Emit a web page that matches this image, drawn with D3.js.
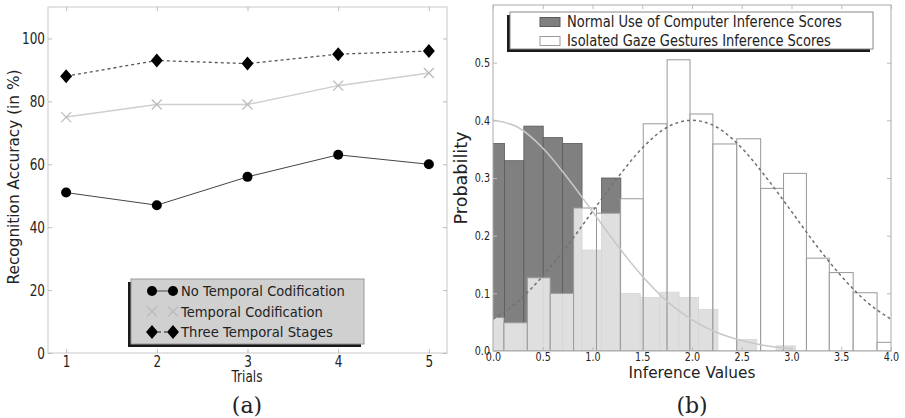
<!DOCTYPE html>
<html>
<head>
<meta charset="utf-8">
<script src="https://cdn.jsdelivr.net/npm/d3@7"></script>
<style>
  body { margin: 0; background: #fff; }
  svg { display: block; }
  text { font-family: "DejaVu Sans", sans-serif; fill: #222; }
</style>
</head>
<body>
<div id="chart"></div>
<script>
// (a) recognition accuracy per trial
const trials = [1, 2, 3, 4, 5]
const noTemporal = [51, 47, 56, 63, 60]
const temporal = [75, 79, 79, 85, 89]
const threeStages = [88, 93, 92, 95, 96]
const accTicks = [0, 20, 40, 60, 80, 100]

// (b) inference value histograms (bin edges + probability per bin)
const normalEdges = [-0.08, 0.115, 0.31, 0.505, 0.70, 0.895, 1.09, 1.285, 1.48, 1.675, 1.87, 2.065, 2.26, 2.455, 2.65, 2.845, 3.04]
const normalProb = [0.36, 0.33, 0.39, 0.37, 0.36, 0.175, 0.30, 0.10, 0.093, 0.102, 0.093, 0.072, 0, 0.02, 0, 0.009]
const gazeEdges = [-0.125, 0.11, 0.345, 0.575, 0.81, 1.04, 1.28, 1.51, 1.75, 1.98, 2.21, 2.45, 2.69, 2.92, 3.15, 3.38, 3.62, 3.86, 4.09]
const gazeProb = [0.058, 0.049, 0.127, 0.10, 0.248, 0.239, 0.264, 0.394, 0.505, 0.411, 0.359, 0.368, 0.282, 0.308, 0.161, 0.136, 0.101, 0.015]
// fitted curves
const normalCurveX = [0, 0.25, 0.5, 0.75, 1.0, 1.25, 1.5, 1.75, 2.0, 2.25, 2.5, 2.75, 3.0]
const normalCurveY = [0.40, 0.388, 0.352, 0.30, 0.242, 0.183, 0.13, 0.086, 0.054, 0.032, 0.018, 0.009, 0.004]
const gazeCurveX = [0, 0.25, 0.5, 0.75, 1.0, 1.25, 1.5, 1.75, 2.0, 2.25, 2.5, 2.75, 3.0, 3.25, 3.5, 3.75, 4.0]
const gazeCurveY = [0.055, 0.086, 0.13, 0.183, 0.242, 0.30, 0.352, 0.388, 0.40, 0.388, 0.352, 0.30, 0.242, 0.183, 0.13, 0.086, 0.055]
const probTicks = [0, 0.1, 0.2, 0.3, 0.4, 0.5]
const valueTicks = [0, 0.5, 1.0, 1.5, 2.0, 2.5, 3.0, 3.5, 4.0]

const W = 905, H = 418
const svg = d3.select("#chart").append("svg").attr("width", W).attr("height", H)

// text helper: squeezes horizontally to a target width when given
function addText(parent, x, y, str, opt = {}){
    const g = parent.append("g")
        .attr("transform", `translate(${x},${y})` + (opt.rotate ? ` rotate(${opt.rotate})` : ""))
    const t = g.append("text")
        .attr("text-anchor", opt.anchor || "middle")
        .attr("dy", "0.35em")
        .style("font-size", (opt.size || 14) + "px")
        .text(str)
    if (opt.family) t.style("font-family", opt.family)
    if (opt.width){
        const len = t.node().getComputedTextLength()
        t.attr("transform", `scale(${opt.width / len},1)`)
    }
    return t
}
function squeeze(sel, sx){
    sel.each(function(){
        const t = d3.select(this)
        t.attr("x", (+t.attr("x") || 0) / sx).attr("transform", `scale(${sx},1)`)
    })
}
function styleAxis(g, size, sx){
    g.select(".domain").remove()
    g.selectAll(".tick line").attr("stroke", "#bbb")
    g.selectAll(".tick text").style("font-size", size + "px").attr("fill", "#222")
        .style("font-family", "DejaVu Sans, sans-serif")
    squeeze(g.selectAll(".tick text"), sx)
}

//--- panel (a)
const xa = d3.scaleLinear().domain([0.8, 5.2]).range([48, 447])
const ya = d3.scaleLinear().domain([0, 110]).range([353, 7])
const pa = svg.append("g")

pa.append("rect").attr("x", xa.range()[0]).attr("y", ya.range()[1])
    .attr("width", xa.range()[1] - xa.range()[0]).attr("height", ya.range()[0] - ya.range()[1])
    .attr("fill", "none").attr("stroke", "#c8c8c8")

const axL = pa.append("g").attr("transform", `translate(${xa.range()[0]},0)`)
    .call(d3.axisLeft(ya).tickValues(accTicks).tickSize(-4).tickPadding(3))
styleAxis(axL, 16, 0.75)
const axB = pa.append("g").attr("transform", `translate(0,${ya.range()[0]})`)
    .call(d3.axisBottom(xa).tickValues(trials).tickSize(-4).tickPadding(3).tickFormat(d3.format("d")))
styleAxis(axB, 16, 0.75)
const axT = pa.append("g").attr("transform", `translate(0,${ya.range()[1]})`)
    .call(d3.axisTop(xa).tickValues(trials).tickSize(-4).tickFormat(""))
styleAxis(axT, 15, 1)
const axR = pa.append("g").attr("transform", `translate(${xa.range()[1]},0)`)
    .call(d3.axisRight(ya).tickValues(accTicks).tickSize(-4).tickFormat(""))
styleAxis(axR, 15, 1)

const lineA = vals => d3.line().x((d, i) => xa(trials[i])).y(d => ya(d))(vals)
const diamond = "M0,-7L6,0L0,7L-6,0Z"
const cross = "M-5,-5L5,5M-5,5L5,-5"

const seriesA = [
    {name: "No Temporal Codification", vals: noTemporal, stroke: "#444", width: 1, dash: null, marker: "circle"},
    {name: "Temporal Codification", vals: temporal, stroke: "#cfcfcf", width: 1.5, dash: null, marker: "cross"},
    {name: "Three Temporal Stages", vals: threeStages, stroke: "#555", width: 1.3, dash: "3,3", marker: "diamond"}
]
function drawMarker(g, kind, x, y){
    if (kind === "circle") g.append("circle").attr("cx", x).attr("cy", y).attr("r", 5).attr("fill", "#000")
    else if (kind === "cross") g.append("path").attr("d", cross).attr("transform", `translate(${x},${y})`)
        .attr("stroke", "#bbb").attr("stroke-width", 1.3).attr("fill", "none")
    else g.append("path").attr("d", diamond).attr("transform", `translate(${x},${y})`).attr("fill", "#000")
}
seriesA.forEach(s => {
    pa.append("path").attr("d", lineA(s.vals)).attr("fill", "none")
        .attr("stroke", s.stroke).attr("stroke-width", s.width).attr("stroke-dasharray", s.dash)
    s.vals.forEach((v, i) => drawMarker(pa, s.marker, xa(trials[i]), ya(v)))
})

// legend (a)
const lgA = pa.append("g")
lgA.append("rect").attr("x", 128).attr("y", 282).attr("width", 233).attr("height", 65).attr("fill", "#1a1a1a")
lgA.append("rect").attr("x", 131).attr("y", 279).attr("width", 233).attr("height", 65)
    .attr("fill", "#d0d0d0").attr("stroke", "#999")
const lgWidths = [164, 142, 152]
seriesA.forEach((s, i) => {
    const cy = 291 + i * 20.5
    lgA.append("line").attr("x1", 152).attr("x2", 173).attr("y1", cy).attr("y2", cy)
        .attr("stroke", s.stroke).attr("stroke-width", s.width).attr("stroke-dasharray", s.dash)
    drawMarker(lgA, s.marker, 152, cy)
    drawMarker(lgA, s.marker, 173, cy)
    addText(lgA, 181, cy, s.name, {size: 14.5, anchor: "start", width: lgWidths[i]})
})

addText(svg, 13, 177, "Recognition Accuracy (in %)", {size: 16, rotate: -90, width: 215})
addText(svg, 247, 377, "Trials", {size: 15, width: 31})
addText(svg, 247, 405, "(a)", {size: 22, family: "DejaVu Serif, serif"})

//--- panel (b)
const xb = d3.scaleLinear().domain([0, 4]).range([493, 891])
const yb = d3.scaleLinear().domain([0, 0.6]).range([351, 5])
const pb = svg.append("g")

svg.append("defs").append("clipPath").attr("id", "clipb").append("rect")
    .attr("x", xb.range()[0]).attr("y", yb.range()[1])
    .attr("width", xb.range()[1] - xb.range()[0]).attr("height", yb.range()[0] - yb.range()[1])

const bars = pb.append("g").attr("clip-path", "url(#clipb)")
bars.selectAll("rect.normal").data(normalProb).join("rect").attr("class", "normal")
    .attr("x", (d, i) => xb(normalEdges[i]))
    .attr("width", (d, i) => xb(normalEdges[i + 1]) - xb(normalEdges[i]))
    .attr("y", d => yb(d)).attr("height", d => yb(0) - yb(d))
    .attr("fill", "#808080").attr("stroke", "#5a5a5a").attr("stroke-width", 0.8)
bars.selectAll("rect.gaze").data(gazeProb).join("rect").attr("class", "gaze")
    .attr("x", (d, i) => xb(gazeEdges[i]))
    .attr("width", (d, i) => xb(gazeEdges[i + 1]) - xb(gazeEdges[i]))
    .attr("y", d => yb(d)).attr("height", d => yb(0) - yb(d))
    .attr("fill", "#fff").attr("fill-opacity", 0.75).attr("stroke", "#999").attr("stroke-width", 1)

const curve = (xs, ys) => d3.line().curve(d3.curveMonotoneX).x((d, i) => xb(xs[i])).y(d => yb(d))(ys)
bars.append("path").attr("d", curve(normalCurveX, normalCurveY)).attr("fill", "none")
    .attr("stroke", "#c8c8c8").attr("stroke-width", 1.5)
bars.append("path").attr("d", curve(gazeCurveX, gazeCurveY)).attr("fill", "none")
    .attr("stroke", "#707070").attr("stroke-width", 1.5).attr("stroke-dasharray", "3,3")

pb.append("rect").attr("x", xb.range()[0]).attr("y", yb.range()[1])
    .attr("width", xb.range()[1] - xb.range()[0]).attr("height", yb.range()[0] - yb.range()[1])
    .attr("fill", "none").attr("stroke", "#aaa")

const bxL = pb.append("g").attr("transform", `translate(${xb.range()[0]},0)`)
    .call(d3.axisLeft(yb).tickValues(probTicks).tickSize(-4).tickPadding(3).tickFormat(d3.format(".1f")))
styleAxis(bxL, 12, 0.8)
const bxB = pb.append("g").attr("transform", `translate(0,${yb.range()[0]})`)
    .call(d3.axisBottom(xb).tickValues(valueTicks).tickSize(-4).tickPadding(1).tickFormat(d3.format(".1f")))
styleAxis(bxB, 12, 0.8)
const bxT = pb.append("g").attr("transform", `translate(0,${yb.range()[1]})`)
    .call(d3.axisTop(xb).tickValues(valueTicks).tickSize(-4).tickFormat(""))
styleAxis(bxT, 11, 1)
const bxR = pb.append("g").attr("transform", `translate(${xb.range()[1]},0)`)
    .call(d3.axisRight(yb).tickValues(probTicks).tickSize(-4).tickFormat(""))
styleAxis(bxR, 11, 1)

// legend (b)
const lgB = pb.append("g")
lgB.append("rect").attr("x", 507).attr("y", 15).attr("width", 363).attr("height", 37).attr("fill", "#1a1a1a")
lgB.append("rect").attr("x", 510).attr("y", 12).attr("width", 363).attr("height", 37)
    .attr("fill", "#fff").attr("stroke", "#888")
const legendB = [
    {name: "Normal Use of Computer Inference Scores", fill: "#808080", stroke: "#5a5a5a", width: 275},
    {name: "Isolated Gaze Gestures Inference Scores", fill: "#fff", stroke: "#999", width: 264}
]
legendB.forEach((s, i) => {
    const cy = 22 + i * 19
    lgB.append("rect").attr("x", 540).attr("y", cy - 4.5).attr("width", 20).attr("height", 9)
        .attr("fill", s.fill).attr("stroke", s.stroke)
    addText(lgB, 567, cy, s.name, {size: 15, anchor: "start", width: s.width})
})

addText(svg, 461, 178, "Probability", {size: 17, rotate: -90, width: 93})
addText(svg, 692, 372, "Inference Values", {size: 16, width: 127})
addText(svg, 692, 405, "(b)", {size: 22, family: "DejaVu Serif, serif"})
</script>
</body>
</html>
